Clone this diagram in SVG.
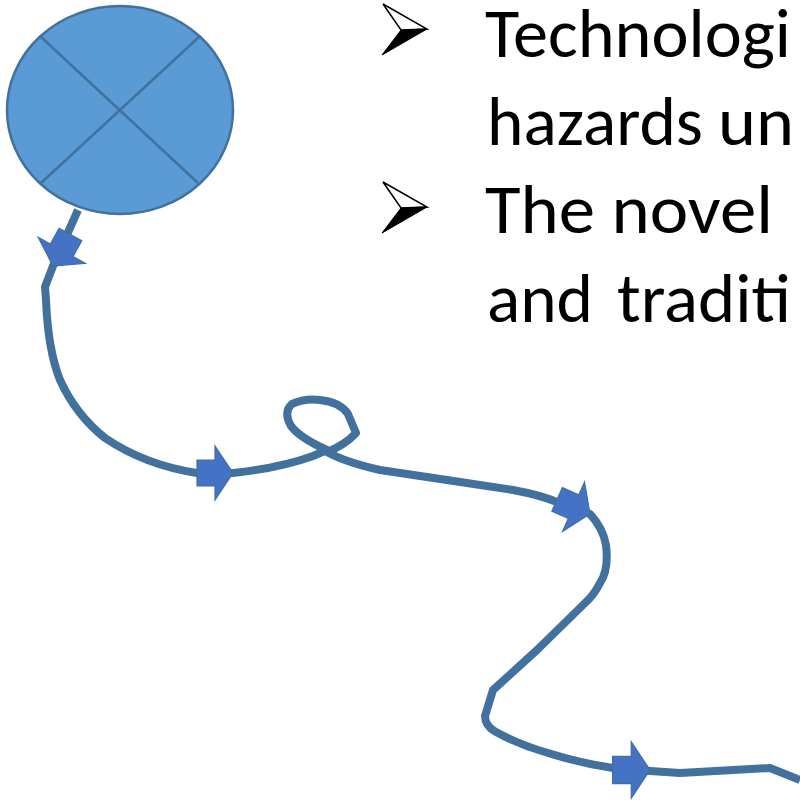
<svg xmlns="http://www.w3.org/2000/svg" width="800" height="802" viewBox="0 0 800 802">
<defs>
<style>
.path{fill:none;stroke:#41719C;stroke-width:8;stroke-linejoin:round;stroke-linecap:butt}
.arr{fill:#4472C4;stroke:#41719C;stroke-width:1.2;stroke-linejoin:miter}
.node{fill:#5B9BD5;stroke:#41719C;stroke-width:2.5}
.x{stroke:#41719C;stroke-width:2.5}
.t{font-family:Carlito,Calibri,Lato,"Open Sans",sans-serif;font-size:70px;fill:#000}
.bw{fill:#fff;stroke:#000;stroke-width:1.5;stroke-linejoin:miter}
.bb{fill:#000;stroke:#000;stroke-width:1}
</style>
<path id="ah" d="M-36,-13 L-18,-13 L-18,-27 L0,0 L-18,27 L-18,13 L-36,13 Z"/>
</defs>
<rect width="800" height="802" fill="#fff"/>
<g id="connectors">
<path class="path" d="M78,210 L53,266 L45,287 L46,300 Q48,350 60,380 Q76,415 105,438 Q145,465 197,473 L233,473 Q280,468 313,456 L327,450 Q300,438 291,426 Q283,412 292,404 Q305,398 320,400 Q340,402 348,414 L356,433 Q345,445 327,452 Q345,462 380,470 L447,480 L513,490 Q540,495 557,502 L590,514 Q603,528 606,545 Q609,570 600,583 Q594,595 585,603 L537,650 L493,690 L485,716 Q485,726 496,732 Q520,745 548,753 Q580,763 613,768 L650,771 L680,773 L770,768 L800,780"/>
<use href="#ah" class="arr" transform="translate(53,266) rotate(119)"/>
<use href="#ah" class="arr" transform="translate(233,473)"/>
<use href="#ah" class="arr" transform="translate(590,514) rotate(24)"/>
<use href="#ah" class="arr" transform="translate(650,770) scale(1.04)"/>
</g>
<g id="node-circle">
<ellipse class="node" cx="120" cy="110" rx="113" ry="104"/>
<line class="x" x1="41" y1="37" x2="198" y2="183"/>
<line class="x" x1="199" y1="37" x2="41" y2="183"/>
</g>
<g id="bullets">
<polygon class="bw" points="383,4 427,29 401,30"/>
<polygon class="bb" points="401,30 427,29 382,55"/>
<polygon class="bw" points="383,182 427,207 401,208"/>
<polygon class="bb" points="401,208 427,207 382,233"/>
</g>
<g id="text">
<text class="t" x="485" y="57" textLength="306" lengthAdjust="spacingAndGlyphs">Technologi</text>
<text class="t" y="145"><tspan x="487" textLength="216" lengthAdjust="spacingAndGlyphs">hazards</tspan><tspan x="718" textLength="76" lengthAdjust="spacingAndGlyphs">un</tspan></text>
<text class="t" x="485" y="233" textLength="288" lengthAdjust="spacingAndGlyphs">The novel</text>
<text class="t" y="322"><tspan x="487" textLength="106" lengthAdjust="spacingAndGlyphs">and</tspan><tspan x="617" textLength="174" lengthAdjust="spacingAndGlyphs">traditi</tspan></text>
</g>
</svg>
